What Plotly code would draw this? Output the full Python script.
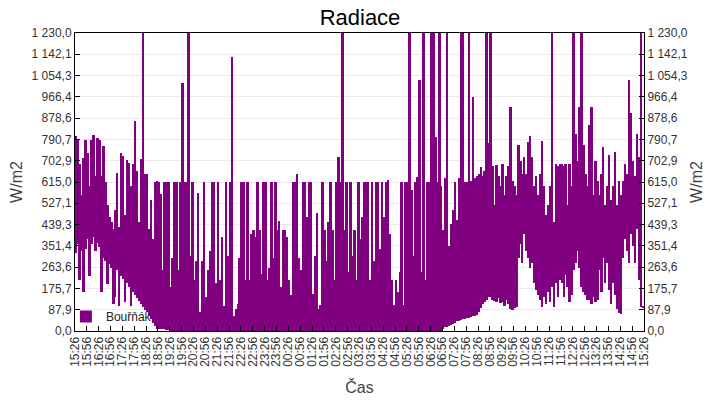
import pandas as pd
import plotly.graph_objects as go

# 5 minute bins, 15:26 -> 15:26 next day
times = pd.date_range("2023-05-20 15:26", periods=288, freq="5min")

# max of each bin (W/m2), one row = half an hour
hi = [
    805, 790, 690, 560, 715, 790,
    735, 600, 788, 810, 640, 797,
    790, 640, 765, 615, 520, 470,
    450, 420, 500, 652, 430, 734,
    722, 480, 706, 694, 600, 690,
    867, 660, 450, 710, 1300, 650,
    650, 420, 540, 380, 615, 620,
    615, 565, 250, 615, 615, 615,
    180, 300, 615, 615, 250, 615,
    1025, 615, 615, 1300, 310, 615,
    210, 289, 570, 80, 290, 615,
    140, 250, 330, 615, 615, 200,
    615, 210, 390, 105, 615, 310,
    615, 1131, 60, 90, 110, 300,
    615, 615, 210, 615, 210, 400,
    417, 390, 615, 417, 235, 615,
    615, 210, 260, 615, 300, 615,
    417, 455, 180, 417, 417, 389,
    210, 150, 615, 615, 648, 300,
    250, 615, 615, 472, 615, 615,
    153, 310, 487, 90, 107, 615,
    417, 289, 450, 615, 417, 210,
    615, 718, 615, 1300, 417, 615,
    245, 615, 310, 417, 210, 615,
    380, 470, 615, 615, 615, 210,
    615, 290, 615, 615, 340, 615,
    470, 615, 625, 400, 210, 107,
    210, 160, 245, 615, 107, 615,
    615, 1300, 580, 310, 615, 636,
    1036, 245, 1300, 210, 615, 615,
    1300, 1300, 801, 615, 1300, 600,
    417, 630, 1300, 350, 440, 500,
    615, 460, 630, 1300, 1300, 615,
    615, 1300, 620, 966, 630, 640,
    650, 677, 640, 660, 1300, 776,
    1300, 680, 520, 685, 640, 600,
    690, 560, 640, 680, 925, 620,
    600, 560, 768, 700, 650, 720,
    650, 780, 805, 720, 600, 640,
    560, 650, 784, 600, 480, 520,
    600, 1300, 450, 690, 680, 690,
    690, 680, 690, 520, 690, 600,
    1300, 812, 700, 925, 1300, 768,
    650, 600, 850, 925, 560, 700,
    620, 560, 650, 760, 520, 600,
    726, 540, 600, 740, 520, 620,
    560, 620, 690, 650, 1036, 900,
    700, 640, 813, 720, 1300, 104,
]

# min of each bin (W/m2)
lo = [
    320, 360, 210, 330, 160, 340,
    380, 225, 360, 390, 330, 365,
    345, 160, 300, 290, 195, 275,
    260, 110, 140, 250, 105, 225,
    215, 120, 198, 180, 105, 160,
    150, 138, 125, 110, 98, 85,
    78, 62, 48, 35, 20, 8,
    10, 10, 8, 8, 6, 5,
] + [0] * (23 * 6) + [
    10, 15, 18, 22, 25, 30,
    35, 40, 42, 45, 48, 50,
    52, 55, 58, 60, 62, 66,
    80, 95, 110, 120, 130, 140,
    140, 130, 125, 120, 135, 115,
    120, 105, 130, 110, 90, 85,
    95, 100, 300, 360, 280, 400,
    330, 300, 260, 280, 200, 170,
    150, 130, 100, 140, 110, 160,
    120, 180, 100, 200, 140, 210,
    200, 140, 230, 180, 120, 150,
    250, 280, 330, 260, 180, 160,
    150, 128, 130, 110, 140, 120,
    130, 250, 160, 300, 200, 280,
    170, 110, 200, 150, 90, 75,
    70, 300, 380, 330, 280, 400,
    350, 280, 420, 210, 100, 99,
]

y_max = 1230.0
y_ticks = [y_max * k / 14 for k in range(15)]

fig = go.Figure()
fig.add_trace(go.Bar(
    x=times,
    y=[h - l for h, l in zip(hi, lo)],
    base=lo,
    name="Bouřňák",
    offset=0,
    width=300000,
    marker=dict(color="#800080", line=dict(width=0)),
))
# dummy trace so the right axis gets drawn
fig.add_trace(go.Scatter(x=[times[0]], y=[0], yaxis="y2", mode="markers",
                         marker=dict(opacity=0), showlegend=False,
                         hoverinfo="skip"))

yax = dict(
    range=[0, y_max],
    tickmode="array",
    tickvals=y_ticks,
    tickformat=",.1f",
    ticks="inside",
    ticklen=5,
    tickcolor="black",
    showline=True,
    linecolor="black",
    zeroline=False,
    automargin=False,
    title=dict(text="W/m2", font=dict(size=16, color="#444"), standoff=4),
)

fig.update_layout(
    width=720,
    height=400,
    margin=dict(l=75, r=76, t=33, b=69),
    paper_bgcolor="white",
    plot_bgcolor="white",
    separators=", ",
    bargap=0,
    hovermode=False,
    font=dict(family="Liberation Sans, Arial, sans-serif", size=12, color="#333"),
    title=dict(text="Radiace", x=0.5, xanchor="center", y=0.9575, yanchor="middle",
               font=dict(size=22, color="black"), automargin=False),
    showlegend=True,
    legend=dict(x=-0.016, y=0, xanchor="left", yanchor="bottom",
                bgcolor="rgba(0,0,0,0)",
                font=dict(size=12, color="#222")),
    xaxis=dict(
        range=[times[0], times[0] + pd.Timedelta(hours=24)],
        tick0=times[0],
        dtick=1800000,
        tickformat="%H:%M",
        tickangle=-90,
        ticks="inside",
        ticklen=5,
        tickcolor="black",
        showline=True,
        linecolor="black",
        mirror=True,
        showgrid=False,
        automargin=False,
        title=dict(text="Čas", font=dict(size=16, color="#444")),
    ),
    yaxis=dict(**yax, mirror=True, gridcolor="#ebebeb"),
    yaxis2=dict(**yax, overlaying="y", side="right", showgrid=False),
)

fig.write_html("out.html", config={"displayModeBar": False},
               post_script="document.body.style.margin = '0';")
